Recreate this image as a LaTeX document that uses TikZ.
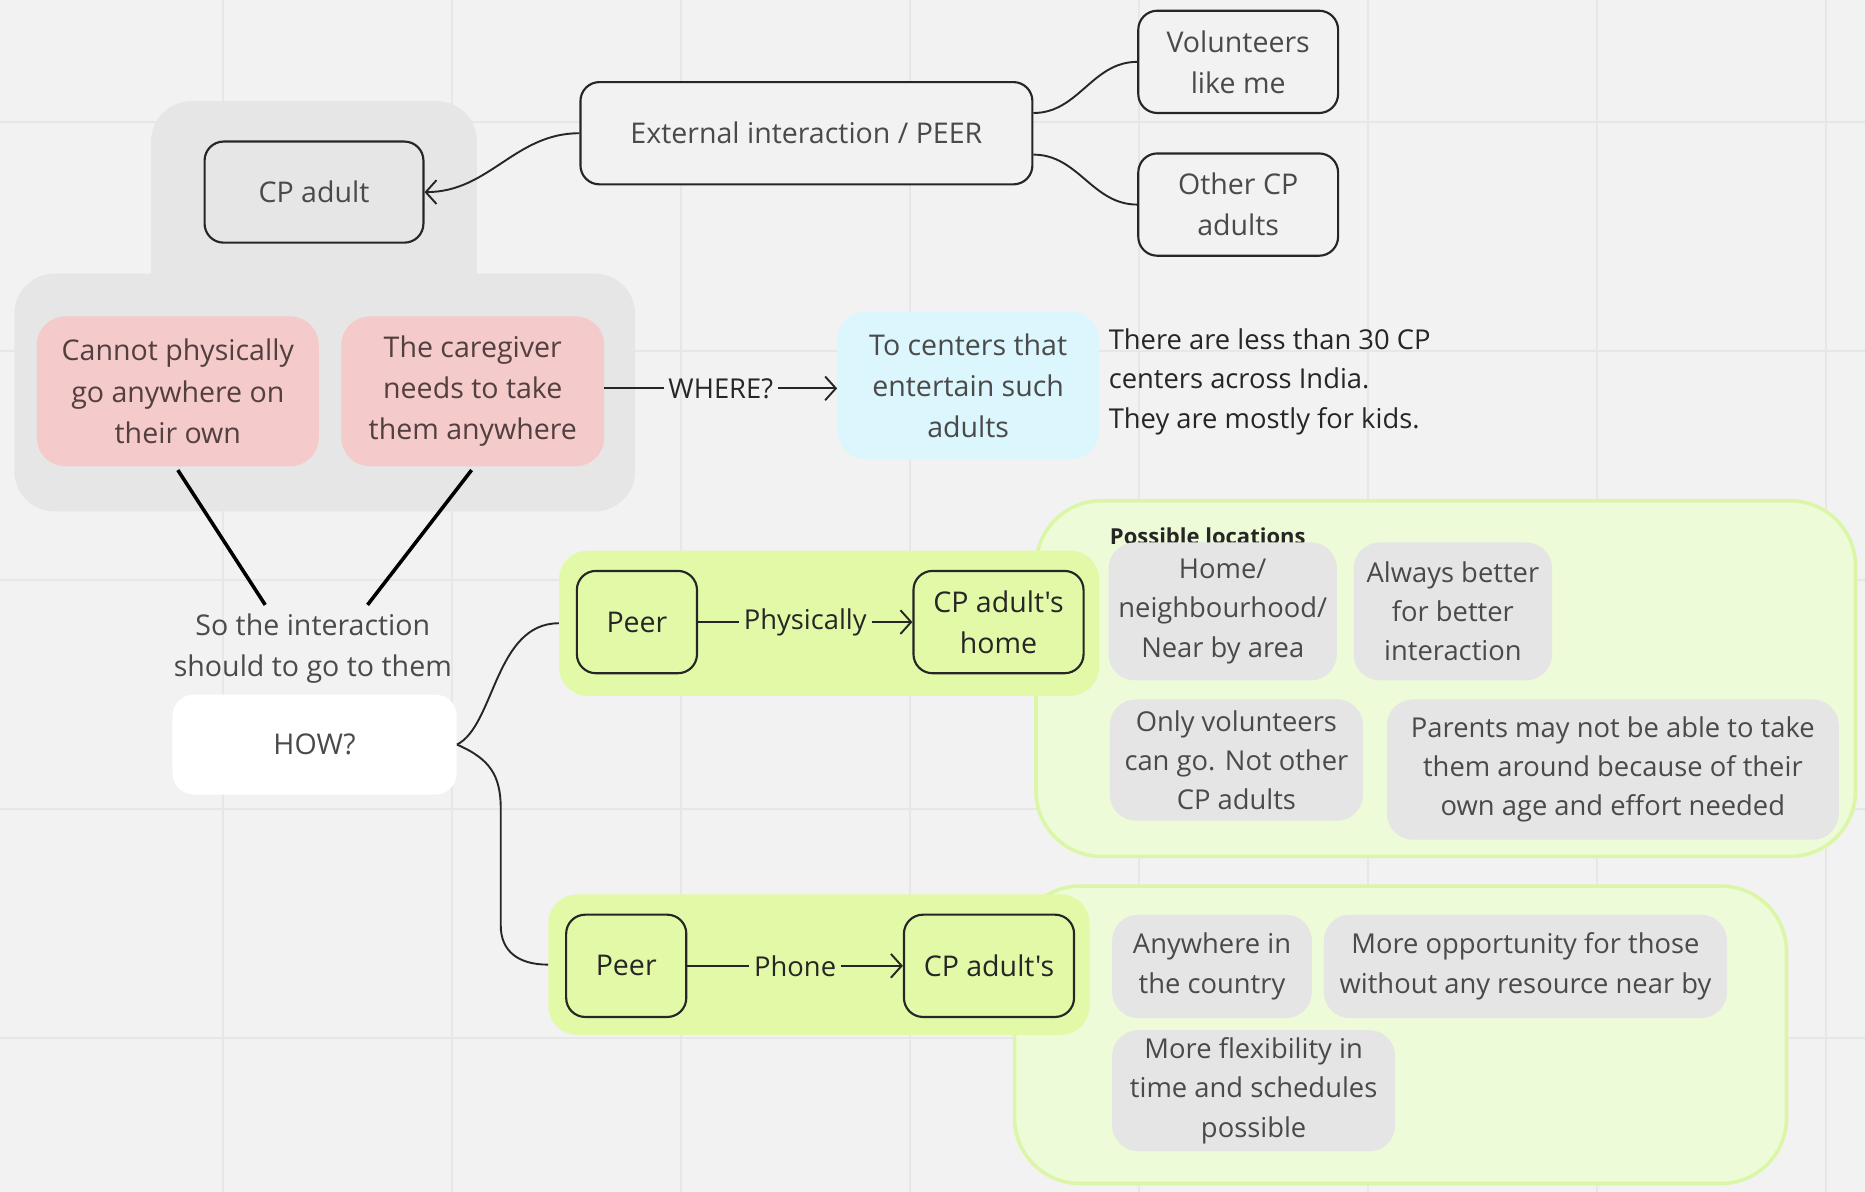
\documentclass[tikz,border=0pt]{standalone}
\usepackage{fontspec}
\setmainfont{Open Sans}[Ligatures=TeXOff]
\usetikzlibrary{arrows.meta}

\definecolor{canvas}{HTML}{F2F2F2}
\definecolor{gridc}{HTML}{E7E7E7}
\definecolor{groupgray}{HTML}{E6E6E6}
\definecolor{pinkfill}{HTML}{F4CACA}
\definecolor{cyanfill}{HTML}{DCF6FD}
\definecolor{limefill}{HTML}{E2FAA8}
\definecolor{panelfill}{HTML}{EEFBD8}
\definecolor{panelline}{HTML}{DCF6A8}
\definecolor{notefill}{HTML}{E5E5E5}
\definecolor{inkdark}{HTML}{262626}
\definecolor{inkgray}{HTML}{4A4A4A}
\definecolor{inkpink}{HTML}{523F3F}

\begin{document}
\begin{tikzpicture}[x=1pt,y=-1pt,
  txt/.style={font=\fontsize{24}{34.5}\selectfont, align=center, inner sep=0pt},
  notetxt/.style={font=\fontsize{23}{33}\selectfont, align=center, inner sep=0pt},
  outlined/.style={txt, draw=inkdark, line width=1.8pt, rounded corners=16pt, text=inkgray},
  greenbox/.style={outlined, fill=limefill, text=inkdark},
  pinkbox/.style={txt, fill=pinkfill, rounded corners=24pt, text=inkpink},
  notebox/.style={notetxt, fill=notefill, rounded corners=22pt, text=inkgray},
  limegroup/.style={fill=limefill, rounded corners=24pt, inner sep=0pt},
  panel/.style={fill=panelfill, draw=panelline, line width=3pt, rounded corners=55pt, inner sep=0pt},
  edgelabel/.style={font=\fontsize{23}{28}\selectfont, text=inkdark, inner sep=4pt},
  conn/.style={draw=inkdark, line width=1.6pt},
  tip/.style={-{Straight Barb[length=9pt,width=20pt,line width=1.6pt]}},
]
\useasboundingbox (0,0) rectangle (1568,1002);
\fill[canvas] (0,0) rectangle (1568,1002);

% board grid
\foreach \gx in {187.5,380,572.5,765,957.5,1150,1342.5,1535}
  \draw[gridc, line width=1.6pt] (\gx,0) -- (\gx,1002);
\foreach \gy in {102.6,295,487.6,680,872.7}
  \draw[gridc, line width=1.6pt] (0,\gy) -- (1568,\gy);

% grey frame behind the CP adult part
\fill[groupgray, rounded corners=34pt] (127,85) rectangle (401,270);
\fill[groupgray, rounded corners=34pt] (12,230) rectangle (534,430);

% light green panels
\node[panel, minimum width=689pt, minimum height=299pt] (locpanel) at (1215.5,570.5) {};
\node[panel, minimum width=649pt, minimum height=250pt] (phonepanel) at (1177.5,870) {};

% top row
\node[outlined, fill=groupgray, minimum width=184pt, minimum height=85pt] (cpadult) at (264,161.5) {CP adult};
\node[outlined, fill=canvas, minimum width=380pt, minimum height=86pt] (ext) at (678,112) {External interaction / PEER};
\node[outlined, fill=canvas, minimum width=168pt, minimum height=86pt] (vol) at (1041,52) {Volunteers\\like me};
\node[outlined, fill=canvas, minimum width=168pt, minimum height=86pt] (other) at (1041,172) {Other CP\\adults};

\draw[conn, tip] (ext.west) to[out=180,in=0] (cpadult.east);
\draw[conn] ([yshift=17pt]ext.east) to[out=0,in=180] (vol.west);
\draw[conn] ([yshift=-18pt]ext.east) to[out=0,in=180] (other.west);

% limitations
\node[pinkbox, minimum width=237pt, minimum height=126pt] (pinkA) at (149.5,329) {Cannot physically\\go anywhere on\\their own};
\node[pinkbox, minimum width=221pt, minimum height=126pt] (pinkB) at (397.5,329) {The caregiver\\needs to take\\them anywhere};

\node[txt, fill=cyanfill, rounded corners=24pt, text=inkgray, minimum width=220pt, minimum height=124pt] (centers) at (814,324) {To centers that\\entertain such\\adults};
\node[txt, anchor=west, align=left, text=inkdark, font=\fontsize{23}{33.5}\selectfont] (fact) at (932,321) {There are less than 30 CP\\centers across India.\\They are mostly for kids.};

\path (pinkB.east) -- node[edgelabel] (where) {WHERE?} (centers.west);
\draw[conn] (pinkB.east |- where) -- (where.west);
\draw[conn, tip] (where.east) -- (centers.west |- where);

% going to them
\node[txt, text=inkgray] (sothe) at (263,545) {So the interaction\\should to go to them};
\draw[line width=3pt, black] ([yshift=-3pt]pinkA.south) -- ([xshift=-40pt,yshift=7pt]sothe.north);
\draw[line width=3pt, black] ([xshift=-1pt,yshift=-3pt]pinkB.south) -- ([xshift=46pt,yshift=7pt]sothe.north);

\node[txt, fill=white, rounded corners=18pt, text=inkgray, minimum width=239pt, minimum height=84pt] (how) at (264.5,626) {HOW?};

% physically
\node[limegroup, minimum width=454pt, minimum height=122pt] (grpA) at (697,524) {};
\node[greenbox, minimum width=101pt, minimum height=86pt] (peerA) at (535.5,523) {Peer};
\node[greenbox, minimum width=143pt, minimum height=86pt] (homeA) at (839.5,523) {CP adult's\\home};
\path (peerA.east) -- node[edgelabel] (phys) {Physically} (homeA.west);
\draw[conn] (peerA.east) -- (phys.west);
\draw[conn, tip] (phys.east) -- (homeA.west);

% by phone
\node[limegroup, minimum width=455pt, minimum height=118pt] (grpB) at (688.5,811) {};
\node[greenbox, minimum width=101pt, minimum height=86pt] (peerB) at (526.5,812) {Peer};
\node[greenbox, minimum width=143pt, minimum height=86pt] (homeB) at (831.5,812) {CP adult's};
\path (peerB.east) -- node[edgelabel] (phone) {Phone} (homeB.west);
\draw[conn] (peerB.east) -- (phone.west);
\draw[conn, tip] (phone.east) -- (homeB.west);

% brace from HOW?
\draw[conn] (how.east) .. controls (416,610) and (416,524) .. (grpA.west);
\draw[conn] (how.east) .. controls (412,638) and (421,652) .. (421,680) -- (421,778) .. controls (421,800) and (436,811) .. (grpB.west);

% notes on visiting in person
\node[txt, anchor=west, font=\fontsize{18.5}{22}\selectfont\bfseries, text=inkdark] (posloc) at (933,451) {Possible locations};
\node[notebox, minimum width=192pt, minimum height=116pt] (nhome) at (1028,514) {Home/\\neighbourhood/\\Near by area};
\node[notebox, minimum width=167pt, minimum height=116pt] (nalways) at (1221.5,514) {Always better\\for better\\interaction};
\node[notebox, minimum width=213pt, minimum height=102pt] (nonly) at (1039.5,639) {Only volunteers\\can go. Not other\\CP adults};
\node[notebox, minimum width=380pt, minimum height=118pt] (nparents) at (1356,647) {Parents may not be able to take\\them around because of their\\own age and effort needed};

% notes on phone calls
\node[notebox, minimum width=168pt, minimum height=87pt] (nany) at (1019,812.5) {Anywhere in\\the country};
\node[notebox, minimum width=339pt, minimum height=87pt] (nmore) at (1282.5,812.5) {More opportunity for those\\without any resource near by};
\node[notebox, minimum width=238pt, minimum height=102pt] (nflex) at (1054,917) {More flexibility in\\time and schedules\\possible};
\end{tikzpicture}
\end{document}
